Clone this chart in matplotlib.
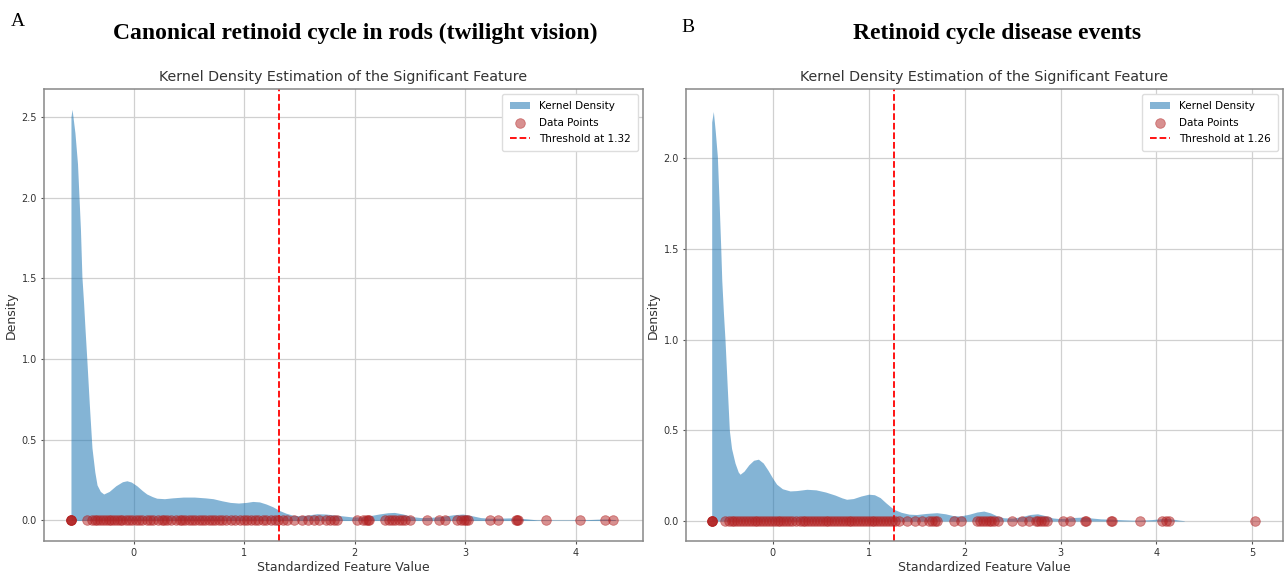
import matplotlib
matplotlib.use('Agg')
import matplotlib.pyplot as plt
import numpy as np

# --- dados ---
# painel A
pontos_a = [-0.566, -0.566, -0.566, -0.566,
            -0.42, -0.38, -0.35, -0.33, -0.30, -0.28, -0.25, -0.22, -0.20, -0.18,
            -0.15, -0.12, -0.10, -0.07, -0.04, -0.01, 0.02, 0.05, 0.08, 0.12, 0.15,
            0.18, 0.22, 0.26, 0.28, 0.30, 0.34, 0.38, 0.42, 0.44, 0.47, 0.50, 0.53,
            0.56, 0.59, 0.62, 0.65, 0.68, 0.71, 0.74, 0.77, 0.80, 0.84, 0.88, 0.92,
            0.96, 1.00, 1.03, 1.06, 1.10, 1.13, 1.17, 1.20, 1.24, 1.28, 1.31, 1.35,
            1.39, 1.45, 1.52, 1.58, 1.63, 1.68, 1.74, 1.78, 1.81, 1.84,
            2.02, 2.08, 2.10, 2.12, 2.13, 2.28, 2.31, 2.34, 2.37, 2.40, 2.43, 2.46,
            2.50, 2.655, 2.76, 2.82, 2.93, 2.96, 2.99, 3.01, 3.03, 3.23, 3.30, 3.46,
            3.47, 3.48, 3.73, 4.04, 4.27, 4.34]
kde_x_a = [-0.566, -0.556, -0.53, -0.507, -0.48, -0.467, -0.452, -0.44, -0.422, -0.40,
           -0.376, -0.35, -0.33, -0.30, -0.27, -0.22, -0.16, -0.10, -0.06, -0.02,
           0.03, 0.08, 0.12, 0.17, 0.21, 0.28, 0.35, 0.45, 0.55, 0.65, 0.72, 0.80,
           0.875, 0.95, 1.02, 1.08, 1.14, 1.20, 1.26, 1.32, 1.38, 1.44, 1.50, 1.58,
           1.66, 1.74, 1.82, 1.90, 1.98, 2.06, 2.14, 2.22, 2.30, 2.36, 2.44, 2.52,
           2.60, 2.70, 2.80, 2.90, 2.98, 3.06, 3.14, 3.22, 3.30, 3.40, 3.48, 3.56,
           3.65, 3.80, 3.95, 4.10, 4.20, 4.28, 4.36]
kde_y_a = [2.50, 2.546, 2.40, 2.21, 1.80, 1.51, 1.35, 1.20, 0.99, 0.72,
           0.45, 0.30, 0.22, 0.18, 0.164, 0.18, 0.215, 0.24, 0.246, 0.238,
           0.215, 0.185, 0.164, 0.148, 0.138, 0.135, 0.14, 0.145, 0.145, 0.14, 0.135, 0.122,
           0.112, 0.108, 0.112, 0.118, 0.115, 0.102, 0.085, 0.062, 0.045, 0.033, 0.029, 0.034,
           0.042, 0.040, 0.034, 0.028, 0.022, 0.022, 0.030, 0.040, 0.048, 0.050, 0.040, 0.024,
           0.018, 0.020, 0.026, 0.036, 0.040, 0.030, 0.018, 0.014, 0.014, 0.016, 0.015, 0.010,
           0.004, 0.003, 0.003, 0.005, 0.008, 0.009, 0.005]
limiar_a = 1.32

# painel B
pontos_b = [-0.63, -0.63, -0.63, -0.63,
            -0.50, -0.46, -0.43, -0.40, -0.37, -0.34, -0.31, -0.28, -0.25, -0.22,
            -0.19, -0.16, -0.13, -0.10, -0.07, -0.04, -0.01, 0.02, 0.05, 0.08, 0.11,
            0.14, 0.17, 0.20, 0.24, 0.28, 0.31, 0.34, 0.37, 0.40, 0.43, 0.46, 0.49,
            0.52, 0.55, 0.58, 0.61, 0.64, 0.67, 0.70, 0.73, 0.76, 0.79, 0.82, 0.85,
            0.88, 0.91, 0.94, 0.97, 1.00, 1.03, 1.06, 1.09, 1.12, 1.15, 1.18, 1.21,
            1.24, 1.27, 1.32, 1.40, 1.48, 1.56, 1.63, 1.66, 1.69, 1.71,
            1.89, 1.96, 2.13, 2.16, 2.19, 2.22, 2.25, 2.28, 2.31, 2.35, 2.49, 2.60,
            2.67, 2.74, 2.77, 2.80, 2.83, 2.86, 3.03, 3.10, 3.26, 3.27, 3.53, 3.54,
            3.83, 4.06, 4.10, 4.13, 5.03]
kde_x_b = [-0.637, -0.62, -0.60, -0.578, -0.56, -0.543, -0.532, -0.515, -0.498, -0.475,
           -0.453, -0.43, -0.394, -0.36, -0.341, -0.30, -0.25, -0.20, -0.15, -0.10,
           -0.05, 0.0, 0.04, 0.10, 0.18, 0.25, 0.355, 0.45, 0.55, 0.65, 0.72, 0.77,
           0.84, 0.92, 1.0, 1.06, 1.12, 1.18, 1.26, 1.34, 1.42, 1.50, 1.60, 1.71,
           1.80, 1.88, 1.955, 2.05, 2.13, 2.20, 2.27, 2.34, 2.41, 2.50, 2.60, 2.68,
           2.76, 2.84, 2.92, 2.98, 3.06, 3.15, 3.24, 3.32, 3.42, 3.54, 3.65, 3.75,
           3.83, 3.95, 4.05, 4.11, 4.18, 4.24, 4.29]
kde_y_b = [2.20, 2.258, 2.15, 2.01, 1.76, 1.51, 1.327, 1.15, 0.996, 0.74,
           0.50, 0.40, 0.32, 0.27, 0.258, 0.275, 0.31, 0.335, 0.341, 0.32,
           0.28, 0.235, 0.203, 0.178, 0.166, 0.168, 0.175, 0.172, 0.160, 0.143, 0.128, 0.12,
           0.124, 0.138, 0.148, 0.145, 0.129, 0.10, 0.065, 0.048, 0.038, 0.036, 0.042, 0.046,
           0.040, 0.030, 0.028, 0.038, 0.050, 0.055, 0.045, 0.028, 0.018, 0.016, 0.025, 0.036,
           0.040, 0.030, 0.017, 0.014, 0.016, 0.020, 0.022, 0.017, 0.012, 0.010, 0.007, 0.005,
           0.005, 0.008, 0.013, 0.015, 0.010, 0.005, 0.002]
limiar_b = 1.26

W, H = 1285, 580
fig = plt.figure(figsize=(W / 100, H / 100), dpi=100)

cor_kde = '#1f77b4'
cor_pts = '#b22222'
cor_txt = '#333333'


def painel(ax, pontos, kx, ky, limiar, xlim, ylim, yticks, xticks):
    ax.set_axisbelow(True)
    ax.grid(True, color='#d0d0d0', lw=0.9)
    ax.fill_between(kx, ky, color=cor_kde, alpha=0.55, lw=0, label='Kernel Density')
    ax.scatter(pontos, np.zeros(len(pontos)), color=cor_pts, alpha=0.5, s=48,
               edgecolors=cor_pts, linewidths=0.6, label='Data Points', zorder=3)
    ax.axvline(limiar, color='red', ls='--', lw=1.3, label=f'Threshold at {limiar:.2f}')
    ax.set_xlim(*xlim)
    ax.set_ylim(*ylim)
    ax.set_yticks(yticks)
    ax.set_xticks(xticks)
    ax.tick_params(labelsize=7, colors='#555555', length=2.5, pad=2.5, labelcolor=cor_txt)
    for s in ax.spines.values():
        s.set_color('#888888')
        s.set_linewidth(1.1)
    ax.set_title('Kernel Density Estimation of the Significant Feature',
                 fontsize=10.3, color=cor_txt, pad=6)
    ax.set_xlabel('Standardized Feature Value', fontsize=9, color=cor_txt, labelpad=2)
    ax.set_ylabel('Density', fontsize=9, color=cor_txt, labelpad=3)
    ax.legend(loc='upper right', fontsize=7.5, frameon=True, edgecolor='#dddddd',
              framealpha=1, handlelength=2.0, borderpad=0.7, labelspacing=0.6)


ax1 = fig.add_axes([44 / W, 1 - 541 / H, (643 - 44) / W, (541 - 89) / H])
painel(ax1, pontos_a, kde_x_a, kde_y_a, limiar_a, (-0.81, 4.61), (-0.127, 2.672),
       [0.0, 0.5, 1.0, 1.5, 2.0, 2.5], [0, 1, 2, 3, 4])

ax2 = fig.add_axes([686 / W, 1 - 541 / H, (1283 - 686) / W, (541 - 89) / H])
painel(ax2, pontos_b, kde_x_b, kde_y_b, limiar_b, (-0.905, 5.32), (-0.11, 2.382),
       [0.0, 0.5, 1.0, 1.5, 2.0], [0, 1, 2, 3, 4, 5])

serif = 'Liberation Serif'
fig.text(11 / W, 1 - 21 / H, 'A', fontsize=14, family=serif, va='center', ha='left')
fig.text(681 / W, 1 - 27 / H, 'B', fontsize=14, family=serif, va='center', ha='left')
fig.text(355 / W, 1 - 33 / H, 'Canonical retinoid cycle in rods (twilight vision)',
         fontsize=17, family=serif, weight='bold', ha='center', va='center')
fig.text(997 / W, 1 - 33 / H, 'Retinoid cycle disease events',
         fontsize=17, family=serif, weight='bold', ha='center', va='center')

fig.savefig('out.png', dpi=100)
plt.close(fig)
